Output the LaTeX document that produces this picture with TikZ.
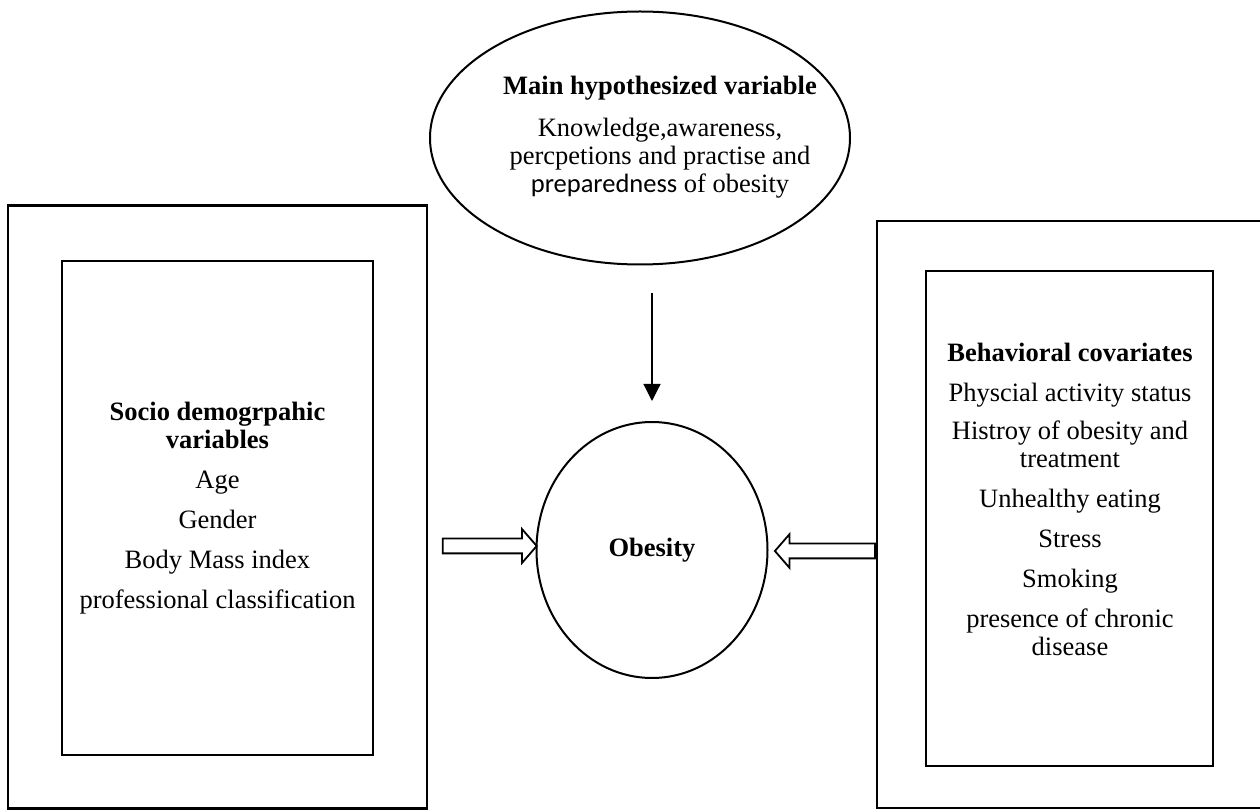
\documentclass[tikz,border=0pt]{standalone}
\usepackage{fontspec}
\setmainfont{Liberation Serif}
\newfontfamily\prepfont{Carlito}
\usepackage{tikz}
\usetikzlibrary{positioning, arrows.meta, shapes.geometric, shapes.arrows}

\tikzset{
    framebox/.style={draw, rectangle, line width=1.2pt, inner sep=0pt},
    roundbox/.style={draw, ellipse, line width=1pt, inner sep=0pt},
    varlist/.style={align=center, inner sep=0pt, font=\fontsize{13.25pt}{14pt}\selectfont},
    hollowarrow/.style={draw, single arrow, line width=0.9pt, inner xsep=0pt, inner ysep=3.25pt,
        minimum width=16pt, minimum height=47pt,
        single arrow head extend=4.75pt, single arrow tip angle=98}
}

\begin{document}
\begin{tikzpicture}[x=0.5pt, y=-0.5pt, >=Triangle]
\useasboundingbox (0,0) rectangle (1260,812);

% Variable principale
\node[roundbox, minimum width=210pt, minimum height=126.5pt] (main) at (640,138) {};
\node[varlist] (mainlabel) at (660,137) {\textbf{Main hypothesized variable}\\[7pt]
    Knowledge,awareness,\\ percpetions and practise and\\ {\prepfont preparedness} of obesity};

% Obesite
\node[roundbox, minimum width=115.5pt, minimum height=128pt,
    font=\fontsize{13.25pt}{14pt}\selectfont\bfseries] (obesity) at (652,550) {Obesity};
\draw[-{Triangle[length=8.5pt, width=8.5pt]}, line width=0.6pt]
    ([yshift=-14pt]main.south -| obesity.north) -- ([yshift=10pt]obesity.north);

% Variables socio-demographiques
\node[framebox, minimum width=209.5pt, minimum height=301.5pt] (socioouter) at (217.5,507) {};
\node[framebox, minimum width=155.5pt, minimum height=247pt] (sociobox) at (217.5,508) {};
\node[varlist] (sociolist) at (217.5,508.5) {\textbf{Socio demogrpahic}\\ \textbf{variables}\\[6pt]
    Age\\[6pt] Gender\\[6pt] Body Mass index\\[6pt] professional classification};

% Covariables comportementales
\node[framebox, minimum width=192.5pt, minimum height=293.5pt] (behouter) at (1069.5,514.5) {};
\node[framebox, minimum width=143.5pt, minimum height=247.5pt] (behbox) at (1069.5,518.5) {};
\node[varlist] (behlist) at (1070,499) {\textbf{Behavioral covariates}\\[6pt]
    Physcial activity status\\[5pt] Histroy of obesity and\\ treatment\\[6pt]
    Unhealthy eating\\[6pt] Stress\\[6pt] Smoking\\[6pt] presence of chronic\\ disease};

% Fleches creuses
\node[hollowarrow] (leftarrow) at (486.5,546) {};
\node[hollowarrow, shape border rotate=180, minimum height=50pt, anchor=tail]
    (rightarrow) at ([yshift=-18.25pt]behouter.west) {};

\end{tikzpicture}
\end{document}
